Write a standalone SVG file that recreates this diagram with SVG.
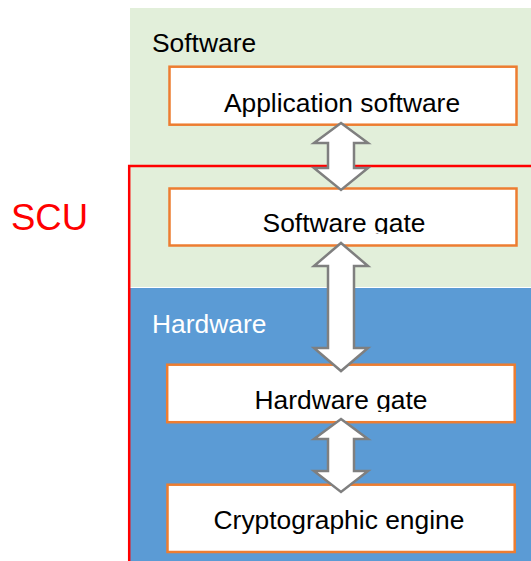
<svg xmlns="http://www.w3.org/2000/svg" width="531" height="561" viewBox="0 0 531 561">
<style>
.box{fill:#FFFFFF;stroke:#ED7D31;stroke-width:2.5}
.lbl{font-family:"Liberation Sans",Arial,sans-serif;font-size:26.4px;fill:#000000}
.ctr{text-anchor:middle}
.arr{fill:#FFFFFF;stroke:#7F7F7F;stroke-width:2.5;stroke-linejoin:miter}
</style>
<defs>
<clipPath id="clipSG"><rect x="169" y="188" width="348" height="46"/></clipPath>
<clipPath id="clipHG"><rect x="167" y="364" width="348" height="48"/></clipPath>
</defs>
<rect width="531" height="561" fill="#FFFFFF"/>
<g id="software-layer">
<rect x="130" y="8" width="401" height="279" fill="#E2EFDA"/>
<text class="lbl" x="152" y="52">Software</text>
</g>
<g id="hardware-layer">
<rect x="130" y="288" width="401" height="273" fill="#5B9BD5"/>
<text class="lbl" x="152" y="333" style="fill:#FFFFFF">Hardware</text>
</g>
<g id="scu">
<rect x="129.2" y="166" width="420" height="420" fill="none" stroke="#FF0000" stroke-width="2.5"/>
<text x="11" y="230" font-family="Liberation Sans, Arial, sans-serif" font-size="36.5" fill="#FF0000">SCU</text>
</g>
<g id="application-software">
<rect class="box" x="169.5" y="66.7" width="347" height="58"/>
<text class="lbl ctr" x="342" y="112">Application software</text>
</g>
<g id="software-gate">
<rect class="box" x="169.5" y="188.5" width="347" height="57"/>
<text class="lbl ctr" x="344" y="232" clip-path="url(#clipSG)">Software gate</text>
</g>
<g id="hardware-gate">
<rect class="box" x="167.2" y="364.7" width="347.5" height="57.5"/>
<text class="lbl ctr" x="341" y="409" clip-path="url(#clipHG)">Hardware gate</text>
</g>
<g id="cryptographic-engine">
<rect class="box" x="167.5" y="484.7" width="347.2" height="67.3"/>
<text class="lbl ctr" x="339" y="529">Cryptographic engine</text>
</g>
<g id="connectors">
<polygon class="arr" points="341,123 368,143 354,143 354,168 368,168 341,190 314,168 328,168 328,143 314,143"/>
<polygon class="arr" points="341,243 368,266 354,266 354,348 368,348 341,371 314,348 328,348 328,266 314,266"/>
<polygon class="arr" points="341,419 368,439 354,439 354,471 368,471 341,492 314,471 328,471 328,439 314,439"/>
</g>
</svg>
